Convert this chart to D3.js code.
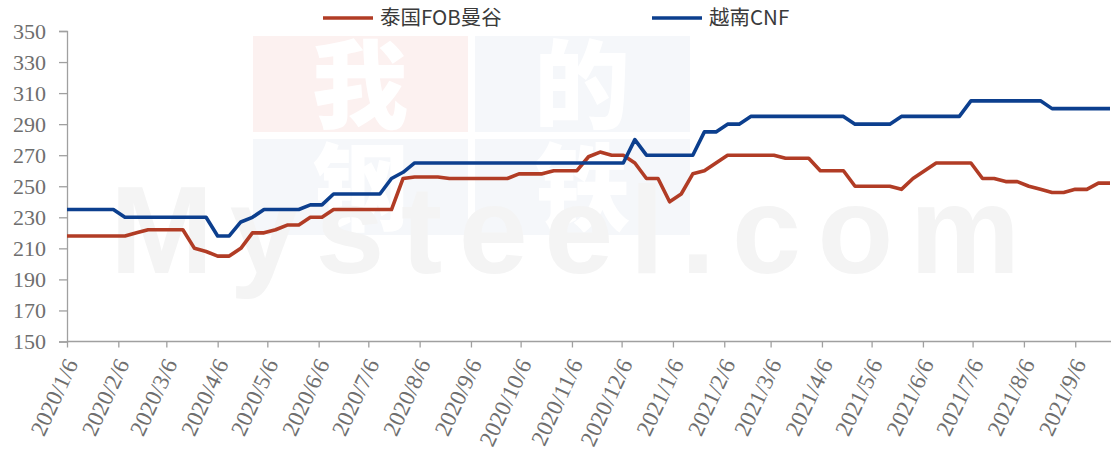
<!DOCTYPE html>
<html>
<head>
<meta charset="utf-8">
<script src="https://cdn.jsdelivr.net/npm/d3@7"></script>
<style>
  html, body { margin: 0; padding: 0; background: #fff; }
  svg { display: block; }
</style>
</head>
<body>
<div id="chart"></div>
<script>
// weekly prices, USD/t, first week 2020/1/6
const startDate = new Date(2020, 0, 6);
const thaiFob = [
  218, 218, 218, 218, 218, 218, 220, 222, 222, 222,
  222, 210, 208, 205, 205, 210, 220, 220, 222, 225,
  225, 230, 230, 235, 235, 235, 235, 235, 235, 255,
  256, 256, 256, 255, 255, 255, 255, 255, 255, 258,
  258, 258, 260, 260, 260, 269, 272, 270, 270, 265,
  255, 255, 240, 245, 258, 260, 265, 270, 270, 270,
  270, 270, 268, 268, 268, 260, 260, 260, 250, 250,
  250, 250, 248, 255, 260, 265, 265, 265, 265, 255,
  255, 253, 253, 250, 248, 246, 246, 248, 248, 252,
  252
];
const vietnamCnf = [
  235, 235, 235, 235, 235, 230, 230, 230, 230, 230,
  230, 230, 230, 218, 218, 227, 230, 235, 235, 235,
  235, 238, 238, 245, 245, 245, 245, 245, 255, 259,
  265, 265, 265, 265, 265, 265, 265, 265, 265, 265,
  265, 265, 265, 265, 265, 265, 265, 265, 265, 280,
  270, 270, 270, 270, 270, 285, 285, 290, 290, 295,
  295, 295, 295, 295, 295, 295, 295, 295, 290, 290,
  290, 290, 295, 295, 295, 295, 295, 295, 305, 305,
  305, 305, 305, 305, 305, 300, 300, 300, 300, 300,
  300
];
const seriesNames = ['泰国FOB曼谷', '越南CNF'];
const seriesColors = ['#b13c25', '#0c3f8e'];
const yTicks = [150, 170, 190, 210, 230, 250, 270, 290, 310, 330, 350];
const xTickLabels = [
  '2020/1/6', '2020/2/6', '2020/3/6', '2020/4/6', '2020/5/6', '2020/6/6',
  '2020/7/6', '2020/8/6', '2020/9/6', '2020/10/6', '2020/11/6', '2020/12/6',
  '2021/1/6', '2021/2/6', '2021/3/6', '2021/4/6', '2021/5/6', '2021/6/6',
  '2021/7/6', '2021/8/6', '2021/9/6'
];

const width = 1111;
const height = 455;
const parseTick = d3.timeParse('%Y/%m/%d');
const dates = thaiFob.map((d, i) => d3.timeWeek.offset(startDate, i));

const svg = d3.select('#chart').append('svg')
  .attr('width', width)
  .attr('height', height);

const x = d3.scaleTime()
  .domain([startDate, dates[dates.length - 1]])
  .range([67, 1110]);
const y = d3.scaleLinear()
  .domain([150, 350])
  .range([341.5, 31]);

// watermark
const wm = svg.append('g').attr('class', 'watermark');
const wmBoxes = [
  { x: 253, y: 36, ch: '我', fill: '#fcf1f0' },
  { x: 475, y: 36, ch: '的', fill: '#f5f7fa' },
  { x: 253, y: 139, ch: '钢', fill: '#f5f7fa' },
  { x: 475, y: 139, ch: '铁', fill: '#f5f7fa' }
];
wmBoxes.forEach(b => {
  wm.append('rect')
    .attr('x', b.x).attr('y', b.y)
    .attr('width', 215).attr('height', 96)
    .attr('fill', b.fill);
  wm.append('text')
    .attr('x', b.x + 107).attr('y', b.y + 84)
    .attr('text-anchor', 'middle')
    .attr('font-family', '"Noto Sans CJK SC"')
    .attr('font-weight', 900)
    .attr('font-size', 96)
    .attr('fill', '#fff')
    .text(b.ch);
});
wm.append('text')
  .attr('x', 565).attr('y', 273)
  .attr('text-anchor', 'middle')
  .attr('font-family', 'Arial, "Liberation Sans"')
  .attr('font-weight', 'bold')
  .attr('font-size', 124)
  .attr('textLength', 910)
  .attr('fill', '#f4f4f4')
  .text('Mysteel.com');

// axes
const axisColor = '#a0a0a0';
const labelColor = '#6e6e6e';

const yAxis = svg.append('g')
  .attr('transform', `translate(${x.range()[0]},0)`)
  .call(d3.axisLeft(y).tickValues(yTicks).tickSize(8).tickPadding(13));
yAxis.select('.domain').attr('stroke', axisColor).attr('stroke-width', 1.3);
yAxis.selectAll('.tick line').attr('stroke', axisColor).attr('stroke-width', 1.3);
yAxis.selectAll('.tick text')
  .attr('font-family', '"Liberation Serif", "Times New Roman", serif')
  .attr('font-size', 22)
  .attr('fill', labelColor);

const xAxis = svg.append('g')
  .attr('transform', `translate(0,${y(150)})`)
  .call(d3.axisBottom(x)
    .tickValues(xTickLabels.map(parseTick))
    .tickSize(6)
    .tickFormat(d3.timeFormat('%Y/%-m/%-d')));
xAxis.select('.domain').attr('stroke', axisColor).attr('stroke-width', 1.3)
  .attr('d', `M${x.range()[0]},0H${width}`);
xAxis.selectAll('.tick line').attr('stroke', axisColor).attr('stroke-width', 1.3);
xAxis.selectAll('.tick text')
  .attr('font-family', '"Liberation Serif", "Times New Roman", serif')
  .attr('font-size', 23)
  .attr('fill', labelColor)
  .attr('text-anchor', 'end')
  .attr('dy', null)
  .attr('y', 0)
  .attr('transform', 'translate(11,22) rotate(-65)');

// lines
const line = d3.line()
  .x((d, i) => x(dates[i]))
  .y(d => y(d));

[thaiFob, vietnamCnf].forEach((s, k) => {
  svg.append('path')
    .datum(s)
    .attr('fill', 'none')
    .attr('stroke', seriesColors[k])
    .attr('stroke-width', 3.6)
    .attr('stroke-linejoin', 'round')
    .attr('d', line);
});

// legend
const legendX = [323, 652];
const legend = svg.append('g');
seriesNames.forEach((name, k) => {
  legend.append('line')
    .attr('x1', legendX[k]).attr('x2', legendX[k] + 50)
    .attr('y1', 18).attr('y2', 18)
    .attr('stroke', seriesColors[k])
    .attr('stroke-width', 3.6);
  legend.append('text')
    .attr('x', legendX[k] + 57).attr('y', 25)
    .attr('font-family', '"Noto Sans CJK SC", sans-serif')
    .attr('font-size', 20.5)
    .attr('fill', '#3a3a3a')
    .text(name);
});
</script>
</body>
</html>
